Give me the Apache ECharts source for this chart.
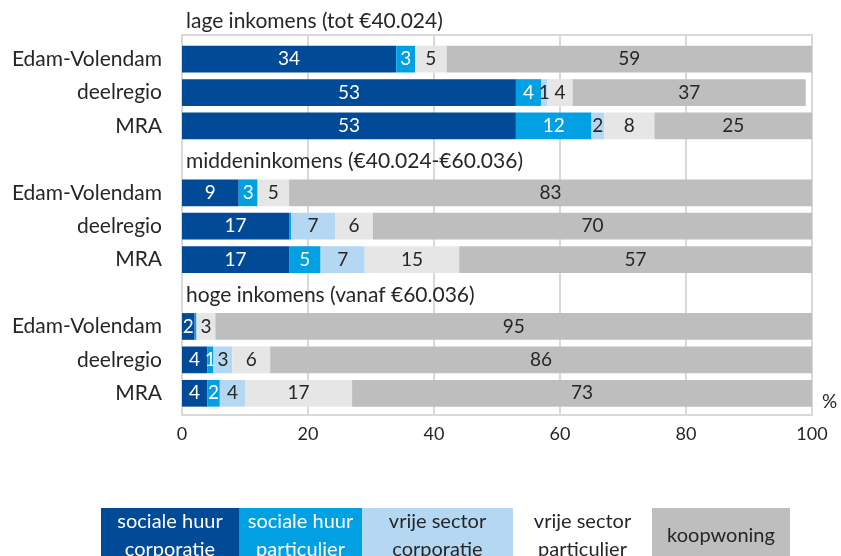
<!DOCTYPE html>
<html>
<head>
<meta charset="utf-8">
<script src="https://cdn.jsdelivr.net/npm/echarts@6/dist/echarts.min.js"></script>
<style>
  html, body { margin: 0; padding: 0; background: #fff; }
  #chart { width: 841px; height: 556px; }
</style>
</head>
<body>
<div id="chart"></div>
<script>
// Groups (income classes) and the regions inside each group
const groupTitles = ['lage inkomens (tot €40.024)', 'middeninkomens (€40.024-€60.036)', 'hoge inkomens (vanaf €60.036)']
const regions = ['Edam-Volendam', 'deelregio', 'MRA']

// Segment names (legend) and colours
const segmentNames = ['sociale huur\ncorporatie', 'sociale huur\nparticulier', 'vrije sector\ncorporatie', 'vrije sector\nparticulier', 'koopwoning']
const segmentColors = ['#004a98', '#00a0e3', '#b4d8f2', '#e6e6e6', '#bebebe']
const labelColors = ['#fff', '#fff', '#262626', '#262626', '#262626']

// values per row: lage EV, deel, MRA, midden EV, deel, MRA, hoge EV, deel, MRA (%)
const socHuurCorp = [34, 53, 53, 9, 17, 17, 2, 4, 4]
const socHuurPart = [3, 4, 12, 3, 0.3, 5, 0.3, 1, 2]
const vrijeCorp = [0, 1, 2, 0, 7, 7, 0, 3, 4]
const vrijePart = [5, 4, 8, 5, 6, 15, 3, 6, 17]
const koopwoning = [59, 37, 25, 83, 70, 57, 95, 86, 73]

const xTicks = [0, 20, 40, 60, 80, 100]

// one slot for the group title, then the three region rows
const categories = []
const titleSlots = []
groupTitles.forEach(() => {
  titleSlots.push(categories.length)
  categories.push('')
  regions.forEach(r => categories.push(r))
})

function withTitleSlots(values) {
  const out = []
  let i = 0
  categories.forEach((c, idx) => {
    if (titleSlots.includes(idx)) out.push('-')
    else out.push(values[i++])
  })
  return out
}

const allValues = [socHuurCorp, socHuurPart, vrijeCorp, vrijePart, koopwoning]
const font = 'Lato, "Open Sans", sans-serif'

const barSeries = allValues.map((vals, i) => ({
  name: segmentNames[i],
  type: 'bar',
  stack: 'share',
  barCategoryGap: '20%',
  barGap: '-100%',
  data: withTitleSlots(vals),
  itemStyle: { color: segmentColors[i] },
  label: {
    show: true,
    position: 'inside',
    color: labelColors[i],
    fontFamily: font,
    fontSize: 19,
    formatter: p => (p.value >= 0.5 ? p.value : '')
  }
}))

// transparent bars that carry the group titles
const titleSeries = {
  name: 'titles',
  type: 'bar',
  stack: 'titles',
  silent: true,
  barGap: '-100%',
  data: categories.map((c, idx) => {
    if (!titleSlots.includes(idx)) return '-'
    // first title sits a bit higher, above the frame
    return { value: 100, label: { offset: [0, idx === 0 ? -4 : 2] } }
  }),
  itemStyle: { color: 'rgba(0,0,0,0)' },
  label: {
    show: true,
    position: 'insideLeft',
    distance: 4,
    color: '#262626',
    fontFamily: font,
    fontSize: 21,
    formatter: p => groupTitles[titleSlots.indexOf(p.dataIndex)]
  }
}

// legend boxes at the bottom
const legendWidths = [138, 123, 151, 139, 138]
const legendGraphics = []
let lx = 101
segmentNames.forEach((n, i) => {
  legendGraphics.push({
    type: 'rect',
    left: lx,
    top: 508,
    shape: { width: legendWidths[i], height: 54 },
    style: { fill: i === 3 ? '#fff' : segmentColors[i] }
  })
  legendGraphics.push({
    type: 'text',
    x: lx + legendWidths[i] / 2,
    y: 536,
    style: {
      text: n,
      fill: labelColors[i],
      font: '20px ' + font,
      lineHeight: 28,
      align: 'center',
      verticalAlign: 'middle'
    }
  })
  lx += legendWidths[i]
})

const chart = echarts.init(document.getElementById('chart'))
chart.setOption({
  animation: false,
  textStyle: { fontFamily: font },
  grid: [
    // bars
    { left: 182, right: 29, top: 9, bottom: 146 },
    // frame + value axis
    { left: 182, right: 29, top: 35, bottom: 141, show: true, borderColor: '#d9d9d9', borderWidth: 2 }
  ],
  xAxis: [
    { gridIndex: 0, type: 'value', min: 0, max: 100, show: false },
    {
      gridIndex: 1,
      type: 'value',
      min: xTicks[0],
      max: xTicks[xTicks.length - 1],
      interval: 20,
      name: '%',
      nameLocation: 'end',
      nameGap: 10,
      nameTextStyle: { color: '#262626', fontSize: 19, verticalAlign: 'bottom', padding: [0, 0, 4, 0] },
      axisLine: { show: false },
      axisTick: { show: false },
      axisLabel: { color: '#262626', fontSize: 18, margin: 10 },
      splitLine: { lineStyle: { color: '#d9d9d9', width: 2 } }
    }
  ],
  yAxis: [
    {
      gridIndex: 0,
      type: 'category',
      inverse: true,
      data: categories,
      axisLine: { show: false },
      axisTick: { show: false },
      axisLabel: { color: '#262626', fontSize: 21, margin: 20 }
    },
    { gridIndex: 1, type: 'value', show: false }
  ],
  graphic: legendGraphics,
  series: [...barSeries, titleSeries]
})

window.addEventListener('resize', () => chart.resize())
</script>
</body>
</html>
